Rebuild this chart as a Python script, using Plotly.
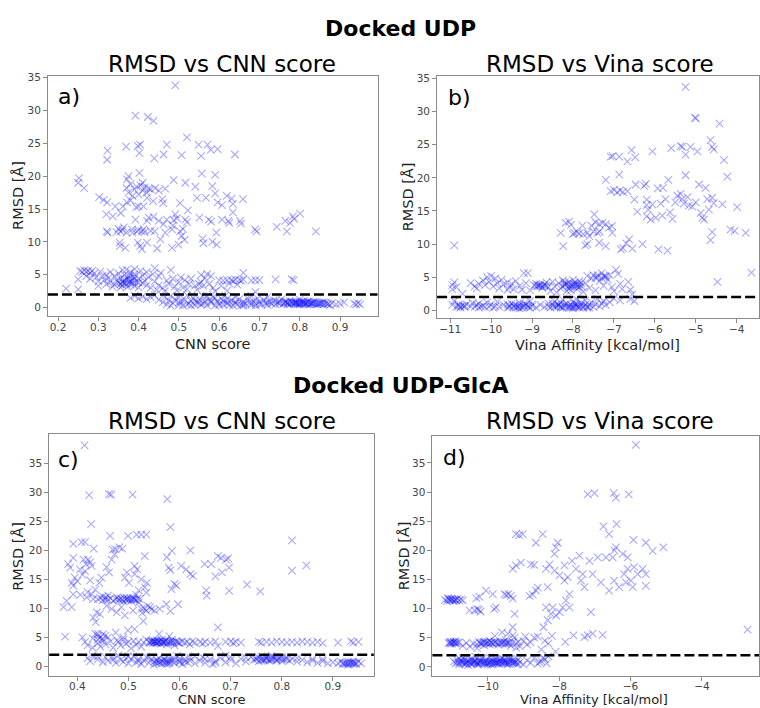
import plotly.graph_objects as go

W, H = 760, 708

# ---------------- data ----------------
# Panel a) Docked UDP, RMSD vs CNN score
a_hi = [(0.491,33.8),(0.392,29.2),(0.423,29.0),(0.437,28.4),(0.52,25.9),(0.369,24.5),(0.398,24.6),(0.404,24.8),
        (0.402,23.5),(0.323,23.9),(0.322,22.5),(0.439,22.7),(0.462,23.3),(0.47,24.8),(0.507,23.2),(0.549,24.8),
        (0.555,23.1),(0.571,24.8),(0.579,24.0),(0.596,24.1),(0.639,23.3),(0.252,19.7),(0.25,19.0),(0.265,18.2),
        (0.302,16.8),(0.313,16.4),(0.322,16.0),(0.32,14.2),(0.336,13.9),(0.342,15.4),(0.321,11.6),(0.323,11.4),
        (0.371,19.5),(0.375,20.0),(0.402,20.5),(0.441,18.2),(0.487,19.4),(0.516,19.0),(0.541,18.4),(0.557,20.4),
        (0.59,20.2),(0.583,18.5),(0.59,17.4),(0.619,17.0),(0.631,16.6),(0.659,16.5),(0.634,15.8),(0.607,15.6),
        (0.596,16.0),(0.545,16.7),(0.567,16.7),(0.503,15.9),(0.522,14.8),(0.491,14.2),(0.47,13.4),(0.487,13.3),
        (0.495,13.6),(0.516,13.4),(0.52,13.0),(0.551,13.7),(0.574,13.4),(0.58,13.1),(0.607,13.4),(0.623,13.2),
        (0.625,12.9),(0.634,14.5),(0.652,13.2),(0.654,12.8),(0.689,11.9),(0.693,11.6),(0.743,12.3),(0.764,13.2),
        (0.776,12.9),(0.783,13.9),(0.786,13.5),(0.801,14.3),(0.768,11.6),(0.84,11.6),(0.436,16.2),(0.459,16.5),
        (0.461,15.9),(0.45,17.8),(0.466,18.1),(0.421,16.7),(0.4,15.4),(0.412,15.4),(0.394,15.3),(0.371,16.0),
        (0.361,15.4),(0.356,14.4),(0.425,13.7),(0.45,13.2),(0.437,13.8),(0.454,10.4),(0.446,9.0),(0.483,9.1),
        (0.499,9.6),(0.507,10.9),(0.514,10.3),(0.503,11.6),(0.483,11.9),(0.466,11.4),(0.462,12.7),(0.559,10.5),
        (0.561,9.8),(0.583,10.0),(0.594,9.6),(0.593,11.4),(0.353,9.9),(0.354,9.4),(0.367,9.1),(0.398,9.9),
        (0.404,9.4),(0.408,8.9),(0.421,9.9),(0.355,11.6),(0.363,12.2),(0.384,11.9),(0.396,11.6),(0.408,11.6),
        (0.412,11.9),(0.392,13.4),(0.421,13.2),(0.44,11.6),(0.37,18.2),(0.375,17.5),(0.38,18.8),(0.385,17.0),
        (0.39,18.0),(0.395,18.4),(0.4,17.2),(0.405,18.6),(0.41,17.8),(0.415,18.3),(0.42,17.5),(0.425,18.1),
        (0.43,18.0),(0.41,19.0),(0.38,16.3),(0.36,11.8),(0.37,11.4),(0.385,11.4),(0.4,11.8),(0.415,11.5),
        (0.43,11.7),(0.345,11.5),(0.35,12.0),(0.485,12.5),(0.51,12.0)]
a_mid = [(0.22,2.9),(0.25,2.8),(0.25,4.3),(0.255,5.6),(0.26,5.4),(0.265,5.7),(0.27,5.5),(0.275,5.6),(0.28,5.3),
         (0.285,5.6),(0.27,4.8),(0.28,4.4),(0.29,5.2),(0.295,4.6),(0.3,4.0),(0.3,3.3),(0.305,5.5),(0.31,4.8),
         (0.315,4.2),(0.32,3.6),(0.32,5.0),(0.325,4.5),(0.33,3.9),(0.335,3.2),(0.34,4.8),(0.34,3.5),(0.345,4.2),
         (0.35,3.8),(0.35,5.2),(0.355,3.1),(0.355,4.5),(0.36,4.0),(0.36,3.4),(0.365,5.0),(0.365,3.7),(0.37,4.3),
         (0.37,5.8),(0.372,3.2),(0.375,4.8),(0.378,3.9),(0.38,5.4),(0.38,3.5),(0.385,4.1),(0.388,4.7),(0.39,3.3),
         (0.39,5.1),(0.395,3.9),(0.4,4.4),(0.4,3.1),(0.405,5.6),(0.41,3.7),(0.41,4.9),(0.415,4.1),(0.42,3.4),
         (0.425,4.6),(0.43,3.0),(0.435,5.1),(0.44,6.0),(0.44,4.0),(0.445,2.7),(0.45,3.4),(0.45,4.8),(0.455,5.3),
         (0.46,3.0),(0.465,2.5),(0.47,4.1),(0.475,3.6),(0.48,5.7),(0.485,4.4),(0.49,3.2),(0.495,2.6),(0.5,3.9),
         (0.505,4.6),(0.51,3.0),(0.515,4.2),(0.52,2.8),(0.525,3.6),(0.53,4.4),(0.54,3.3),(0.545,2.7),(0.55,3.6),
         (0.555,3.9),(0.56,3.3),(0.565,4.5),(0.57,5.1),(0.575,3.6),(0.58,4.8),(0.585,3.0),(0.59,2.5),(0.6,4.2),
         (0.605,3.3),(0.61,4.1),(0.62,4.2),(0.625,3.7),(0.63,4.2),(0.635,4.0),(0.64,4.3),(0.645,3.5),(0.65,4.2),
         (0.655,4.1),(0.66,4.3),(0.66,5.3),(0.68,4.1),(0.69,4.2),(0.7,4.2),(0.74,4.3),(0.78,4.3),(0.785,4.2),
         (0.69,2.4),(0.62,2.6),(0.42,5.4),(0.36,5.7),(0.39,5.9),(0.33,5.4),(0.555,5.0)]
a_low = [(0.38,1.5),(0.39,1.8),(0.4,1.4),(0.41,1.7),(0.42,1.3),(0.43,1.6),(0.44,1.9),(0.45,1.2),(0.46,0.8),
         (0.465,1.6),(0.47,0.5),(0.475,1.1),(0.48,1.8),(0.485,0.7),(0.49,1.3),(0.5,0.4),(0.5,1.6),(0.505,0.9),
         (0.51,0.3),(0.515,1.2),(0.52,1.9),(0.525,0.6),(0.53,1.0),(0.535,1.5),(0.54,0.4),(0.545,0.8),(0.55,1.3),
         (0.555,0.5),(0.56,1.7),(0.565,0.9),(0.57,0.4),(0.575,1.2),(0.58,0.7),(0.585,1.6),(0.59,0.3),(0.595,1.0),
         (0.6,0.6),(0.605,1.4),(0.61,0.5),(0.615,1.8),(0.62,0.8),(0.625,0.4),(0.63,1.1),(0.635,0.3),(0.64,0.7),
         (0.645,0.5),(0.65,1.3),(0.655,0.4),(0.66,0.9),(0.665,0.6),(0.67,1.5),(0.675,0.8),(0.68,0.4),(0.685,1.0),
         (0.69,0.6),(0.695,1.4),(0.7,0.9),(0.705,0.5),(0.71,1.2),(0.715,0.7),(0.72,0.4),(0.725,0.9),(0.73,0.6),
         (0.735,1.1),(0.74,0.5),(0.745,0.8),(0.75,0.6),(0.755,1.3),(0.76,0.7),(0.765,0.9),(0.77,0.5),(0.775,1.0),
         (0.78,0.7),(0.785,0.6),(0.79,0.9),(0.795,0.5),(0.8,0.8),(0.805,0.6),(0.81,1.0),(0.815,0.7),(0.82,0.5),
         (0.825,0.8),(0.83,0.6),(0.835,0.9),(0.84,0.5),(0.845,0.7),(0.85,0.6),(0.855,0.8),(0.86,0.5),(0.865,0.7),
         (0.87,0.6),(0.875,0.4),(0.88,0.7),(0.89,0.5),(0.9,0.6),(0.91,0.8),(0.935,0.6),(0.94,0.5),(0.945,0.7),
         (0.95,0.5),(0.53,0.3),(0.57,1.8),(0.62,1.3),(0.66,0.3),(0.72,1.6),(0.8,1.2),(0.82,0.9),(0.79,0.7),
         (0.81,0.5),(0.83,0.8),(0.77,0.8),(0.75,0.9),(0.64,1.6),(0.68,1.8),(0.59,1.5),(0.48,0.3),(0.55,0.7),
         (0.61,1.0),(0.69,0.3),(0.74,1.0)]
a_dense = [(0.76,0.6),(0.765,0.8),(0.77,0.7),(0.775,0.5),(0.78,0.9),(0.785,0.8),(0.79,0.6),(0.795,0.7),(0.8,0.5),
           (0.805,0.9),(0.81,0.7),(0.815,0.6),(0.82,0.8),(0.825,0.5),(0.83,0.7),(0.835,0.6),(0.84,0.8),(0.845,0.5),
           (0.85,0.7),(0.855,0.6),(0.86,0.8),(0.87,0.5),(0.8,0.6),(0.81,0.8),(0.79,0.8),(0.5,0.8),(0.52,0.5),
           (0.54,1.1),(0.56,0.6),(0.58,1.0),(0.6,0.4),(0.62,0.6),(0.64,0.9),(0.66,0.5),(0.68,0.7),(0.7,0.5),
           (0.72,0.8),(0.36,3.8),(0.37,3.6),(0.375,4.4),(0.38,4.0),(0.385,3.7),(0.39,4.5),(0.4,3.8),(0.38,4.9),
           (0.365,4.2),(0.355,3.6)]

# Panel b) Docked UDP, RMSD vs Vina affinity
b_hi = [(-5.25,33.75),(-5.02,29.1),(-5.0,29.0),(-4.42,28.2),(-4.6,24.7),(-4.64,25.7),(-4.56,24.3),(-5.37,24.8),
        (-5.33,24.7),(-5.13,24.7),(-5.25,23.5),(-4.96,24.0),(-5.6,24.5),(-6.06,24.0),(-6.57,24.2),(-6.48,23.1),
        (-6.67,22.5),(-7.08,23.2),(-7.03,23.3),(-6.87,23.2),(-6.87,20.5),(-7.2,19.7),(-4.31,22.7),(-4.23,20.2),
        (-5.25,20.4),(-4.92,19.0),(-4.76,18.5),(-6.22,19.1),(-6.26,18.8),(-6.47,19.0),(-5.93,18.4),(-5.8,18.5),
        (-5.67,19.7),(-7.08,18.0),(-7.0,18.2),(-6.92,17.8),(-6.85,18.1),(-6.78,17.9),(-6.67,18.0),(-6.5,16.7),
        (-6.2,16.7),(-6.2,15.9),(-6.06,16.0),(-6.16,15.2),(-6.43,14.9),(-6.2,14.2),(-6.1,13.7),(-5.98,14.0),
        (-5.82,14.3),(-5.86,16.1),(-5.74,16.8),(-5.63,14.8),(-5.57,13.8),(-5.5,16.3),(-5.45,17.3),(-5.37,17.6),
        (-5.33,16.8),(-5.2,17.1),(-5.17,15.8),(-5.09,15.7),(-5.0,16.3),(-5.29,16.1),(-4.88,14.7),(-4.84,14.0),
        (-4.8,13.7),(-4.72,16.8),(-4.6,17.0),(-4.56,16.2),(-4.68,15.2),(-4.35,16.0),(-4.6,11.8),(-4.64,10.6),
        (-3.99,15.6),(-4.15,12.2),(-4.05,12.0),(-3.78,11.7),(-3.64,5.7),(-4.47,4.3),(-10.9,9.8),(-8.18,13.2),
        (-8.1,13.4),(-7.97,11.7),(-7.9,11.8),(-7.85,11.6),(-7.65,11.7),(-7.6,11.2),(-7.77,12.8),(-7.45,13.3),
        (-7.36,13.0),(-7.28,13.2),(-7.2,13.0),(-7.12,12.5),(-7.05,12.7),(-7.04,11.7),(-7.4,11.7),(-7.48,14.5),
        (-7.35,11.9),(-8.24,9.7),(-7.65,10.0),(-7.7,9.8),(-7.36,10.2),(-7.2,9.7),(-6.83,9.2),(-6.78,9.4),
        (-6.55,9.3),(-6.3,10.0),(-6.63,10.7),(-6.7,10.1),(-5.91,9.2),(-5.69,9.0),(-8.0,11.5),(-7.75,11.5),
        (-7.55,12.8),(-7.5,11.9),(-8.3,11.7),(-8.05,12.9)]
b_mid = [(-10.95,3.2),(-10.95,3.8),(-10.9,4.2),(-10.85,3.5),(-10.5,4.1),(-10.4,3.6),(-10.35,3.3),(-10.3,4.0),
         (-10.2,4.5),(-10.15,3.8),(-10.1,5.0),(-10.05,4.3),(-10.0,5.2),(-9.95,3.6),(-9.9,4.8),(-9.85,4.1),
         (-9.8,3.3),(-9.75,4.6),(-9.7,3.9),(-9.6,4.2),(-9.55,3.5),(-9.5,4.0),(-9.45,3.2),(-9.4,4.4),(-9.3,3.7),
         (-9.25,3.1),(-9.2,5.6),(-9.1,5.6),(-9.15,4.1),(-9.05,3.0),(-8.95,3.8),(-8.9,4.0),(-8.85,3.6),(-8.8,3.9),
         (-8.75,3.4),(-8.7,3.7),(-8.65,4.2),(-8.6,3.5),(-8.55,2.9),(-8.5,4.3),(-8.45,3.6),(-8.4,2.7),(-8.35,4.1),
         (-8.3,3.3),(-8.25,4.5),(-8.2,3.8),(-8.15,2.9),(-8.1,4.2),(-8.05,3.5),(-8.0,4.6),(-7.95,3.9),(-7.9,3.2),
         (-7.85,4.4),(-7.8,3.7),(-7.75,2.8),(-7.7,4.1),(-7.65,5.2),(-7.6,3.4),(-7.55,4.8),(-7.5,5.3),(-7.45,3.0),
         (-7.4,5.0),(-7.35,4.4),(-7.3,5.6),(-7.25,3.7),(-7.2,5.0),(-7.15,4.6),(-7.1,5.3),(-7.05,3.5),(-7.0,2.9),
         (-6.95,6.1),(-6.9,5.5),(-6.85,4.0),(-6.8,3.2),(-6.65,4.3),(-6.6,3.1),(-6.55,2.4),(-8.1,3.7),(-8.0,4.0),
         (-7.9,3.9),(-8.2,4.0),(-7.85,3.5),(-8.05,3.0),(-9.6,3.1),(-10.7,2.5),(-8.9,3.6),(-8.8,3.7),(-7.45,4.9),
         (-7.25,5.1)]
b_low = [(-10.95,0.8),(-10.9,1.4),(-10.85,0.5),(-10.8,0.6),(-10.75,0.4),(-10.7,0.7),(-10.65,0.5),(-10.6,0.9),
         (-10.5,0.6),(-10.45,1.1),(-10.4,0.5),(-10.35,0.8),(-10.3,0.4),(-10.2,0.7),(-10.1,1.2),(-10.05,0.5),
         (-10.0,0.9),(-9.95,0.4),(-9.9,0.6),(-9.85,1.3),(-9.8,0.5),(-9.7,0.8),(-9.6,0.4),(-9.55,0.7),(-9.5,1.0),
         (-9.45,0.5),(-9.4,0.8),(-9.35,0.6),(-9.3,1.1),(-9.25,0.4),(-9.2,0.7),(-9.15,0.9),(-9.1,0.5),(-9.05,1.4),
         (-9.0,0.6),(-8.9,0.4),(-8.8,0.8),(-8.7,0.5),(-8.6,1.0),(-8.55,0.4),(-8.5,0.7),(-8.45,1.3),(-8.4,0.5),
         (-8.35,0.9),(-8.3,0.4),(-8.25,1.6),(-8.2,0.6),(-8.15,1.0),(-8.1,0.4),(-8.05,0.8),(-8.0,1.3),(-7.95,0.5),
         (-7.9,0.9),(-7.85,0.4),(-7.8,1.1),(-7.75,0.6),(-7.7,1.5),(-7.65,0.4),(-7.6,0.8),(-7.55,1.2),(-7.5,0.5),
         (-7.45,0.9),(-7.4,1.7),(-7.35,0.6),(-7.3,1.0),(-7.25,1.4),(-7.2,0.8),(-7.1,1.2),(-7.0,1.8),(-6.85,1.5),
         (-6.6,1.7),(-6.5,1.4),(-9.3,0.3),(-9.2,1.0),(-8.3,1.1),(-8.0,0.3),(-7.9,1.6),(-8.4,0.9),(-9.6,0.9),
         (-10.3,1.0),(-10.8,0.9),(-9.4,0.4),(-9.0,0.9),(-8.15,0.6),(-7.95,1.0),(-7.8,0.7),(-7.6,0.4),(-8.5,1.0),
         (-8.6,0.6)]
b_dense = [(-8.45,0.5),(-8.35,0.7),(-8.25,0.4),(-8.2,0.9),(-8.1,0.6),(-8.0,0.5),(-7.95,0.8),(-7.85,0.6),
           (-7.75,0.4),(-7.7,0.8),(-7.65,0.6),(-8.3,0.6),(-8.05,0.4),(-7.9,0.5),(-9.55,0.5),(-9.45,0.7),
           (-9.35,0.4),(-9.3,0.7),(-9.2,0.5),(-9.1,0.7),(-9.05,0.4),(-10.75,0.6),(-10.65,0.7),(-10.25,0.6),
           (-10.15,0.5),(-8.25,3.6),(-8.15,4.0),(-8.05,3.8),(-7.95,4.2),(-7.9,3.6),(-7.8,4.1),(-8.1,3.3),
           (-8.0,3.6),(-7.85,3.9),(-8.2,4.3),(-8.85,3.8),(-8.75,3.6),(-8.7,3.9),(-8.65,3.7),(-7.3,4.9),
           (-7.2,5.2),(-7.4,5.3)]

# Panel c) Docked UDP-GlcA, RMSD vs CNN score
c_hi = [(0.414,38.1),(0.423,29.5),(0.462,29.7),(0.466,29.6),(0.508,29.6),(0.576,28.8),(0.427,24.5),(0.464,22.5),
        (0.499,22.5),(0.516,22.7),(0.525,22.7),(0.535,22.7),(0.582,24.0),(0.392,21.1),(0.408,21.4),(0.415,21.4),
        (0.432,20.3),(0.469,20.1),(0.474,20.2),(0.482,20.5),(0.488,20.3),(0.532,19.0),(0.585,19.9),(0.575,18.8),
        (0.621,20.0),(0.382,17.6),(0.386,17.0),(0.392,18.7),(0.412,18.4),(0.421,18.4),(0.417,17.6),(0.425,17.9),
        (0.428,17.3),(0.405,16.7),(0.415,16.4),(0.395,15.3),(0.389,14.4),(0.392,13.9),(0.4,14.7),(0.457,17.1),
        (0.462,16.2),(0.443,14.4),(0.447,15.3),(0.467,18.4),(0.473,19.3),(0.497,16.2),(0.493,15.3),(0.501,14.4),
        (0.512,17.3),(0.517,16.7),(0.512,15.9),(0.525,15.0),(0.536,14.4),(0.535,12.7),(0.532,13.6),(0.579,17.0),
        (0.582,16.6),(0.59,14.2),(0.594,13.9),(0.584,13.3),(0.603,17.3),(0.613,16.7),(0.621,15.9),(0.626,15.6),
        (0.652,13.1),(0.653,12.2),(0.649,17.6),(0.662,17.6),(0.67,15.5),(0.675,19.0),(0.681,18.7),(0.691,18.4),
        (0.695,18.6),(0.683,16.2),(0.697,17.0),(0.697,13.0),(0.675,6.7),(0.373,10.2),(0.389,10.2),(0.379,11.3),
        (0.392,12.4),(0.406,12.3),(0.418,11.9),(0.428,12.4),(0.431,11.6),(0.438,9.3),(0.444,9.0),(0.436,7.6),
        (0.431,8.4),(0.457,10.4),(0.467,9.9),(0.477,9.3),(0.486,10.2),(0.493,8.8),(0.509,9.6),(0.529,7.8),
        (0.525,9.9),(0.535,9.6),(0.542,10.2),(0.551,9.6),(0.561,9.9),(0.574,10.7),(0.582,9.5),(0.597,10.7),
        (0.499,6.2),(0.512,6.4),(0.376,5.1),(0.732,14.1),(0.758,12.9),(0.82,21.7),(0.82,16.5),(0.848,17.4),
        (0.52,11.0),(0.53,10.0),(0.527,9.2),(0.538,10.4),(0.515,12.3),(0.52,13.1),(0.45,12.0),(0.455,11.5),
        (0.46,12.2),(0.42,12.8),(0.41,15.8),(0.425,14.8),(0.435,13.2),(0.545,9.8),
        (0.44,11.6),(0.445,11.8),(0.45,11.4),(0.455,11.9),(0.46,11.5),(0.465,11.7),(0.47,11.3),(0.475,11.6),
        (0.478,11.9),(0.482,11.4),(0.485,11.7),(0.488,11.5),(0.49,11.2),(0.492,11.8),(0.495,11.5),(0.498,11.6),
        (0.5,11.4),(0.503,11.7),(0.506,11.5),(0.509,11.8),(0.512,11.6),(0.515,11.4),(0.518,11.7),(0.522,11.6),
        (0.48,11.6),(0.497,11.8),(0.505,11.3),(0.51,11.5)]
c_mid = [(0.41,5.0),(0.415,4.2),(0.42,3.6),(0.43,4.8),(0.435,5.6),(0.44,5.2),(0.44,4.0),(0.445,3.4),(0.45,5.5),
         (0.45,4.4),(0.455,3.8),(0.46,5.0),(0.465,4.3),(0.47,3.2),(0.475,5.8),(0.48,4.2),(0.485,3.6),(0.49,4.6),
         (0.495,3.9),(0.5,4.2),(0.505,3.1),(0.51,4.4),(0.515,3.7),(0.52,4.2),(0.525,3.4),(0.53,4.1),(0.535,4.6),
         (0.54,4.2),(0.545,4.4),(0.548,4.0),(0.55,4.3),(0.553,4.1),(0.556,4.5),(0.56,4.2),(0.563,3.9),(0.566,4.3),
         (0.57,4.1),(0.573,4.4),(0.576,4.2),(0.58,5.2),(0.583,4.0),(0.586,4.3),(0.59,3.6),(0.595,4.2),(0.6,4.0),
         (0.605,4.3),(0.61,4.1),(0.615,4.2),(0.62,3.8),(0.625,4.3),(0.63,4.1),(0.64,4.2),(0.645,3.9),(0.65,4.2),
         (0.66,4.1),(0.67,4.3),(0.675,3.5),(0.69,4.2),(0.7,4.3),(0.705,4.0),(0.71,4.2),(0.72,4.1),(0.755,4.2),
         (0.76,4.1),(0.77,4.2),(0.78,4.1),(0.79,4.3),(0.8,4.2),(0.81,4.1),(0.82,4.2),(0.83,4.1),(0.84,4.3),
         (0.85,4.2),(0.86,4.1),(0.87,4.2),(0.88,4.0),(0.91,4.1),(0.935,4.3),(0.94,4.1),(0.95,4.2),(0.555,4.0),
         (0.565,4.6),(0.575,3.8),(0.585,4.6),(0.545,4.2),(0.552,4.3),(0.558,4.2),(0.568,4.2),(0.478,4.5),
         (0.455,5.3),(0.44,5.6),(0.43,3.2),(0.56,5.6),(0.49,5.0)]
c_low = [(0.42,1.4),(0.425,0.9),(0.43,1.8),(0.44,1.2),(0.45,0.7),(0.455,1.6),(0.46,1.0),(0.47,1.5),(0.475,0.6),
         (0.48,1.9),(0.485,1.1),(0.49,0.8),(0.495,1.4),(0.5,0.5),(0.505,1.2),(0.51,1.7),(0.515,0.7),(0.52,1.3),
         (0.525,0.4),(0.53,1.0),(0.535,1.6),(0.54,0.6),(0.545,1.2),(0.55,0.3),(0.555,0.9),(0.56,1.4),(0.565,0.5),
         (0.57,1.1),(0.575,0.4),(0.58,0.8),(0.585,1.3),(0.59,0.6),(0.595,1.8),(0.6,0.9),(0.605,0.4),(0.61,1.2),
         (0.615,0.7),(0.62,1.5),(0.63,0.5),(0.64,1.0),(0.645,1.6),(0.65,0.6),(0.66,1.2),(0.665,0.4),(0.67,0.9),
         (0.68,1.4),(0.69,0.7),(0.7,1.1),(0.71,0.5),(0.72,1.3),(0.73,0.8),(0.74,1.6),(0.745,1.1),(0.75,1.4),
         (0.755,0.9),(0.76,1.7),(0.765,1.2),(0.77,1.5),(0.775,1.0),(0.78,1.3),(0.785,1.6),(0.79,1.1),(0.795,1.4),
         (0.8,0.9),(0.805,1.2),(0.81,1.5),(0.815,1.0),(0.82,1.3),(0.83,0.8),(0.84,1.1),(0.85,0.7),(0.86,1.0),
         (0.87,0.6),(0.88,0.9),(0.89,0.5),(0.9,0.7),(0.91,0.5),(0.915,0.8),(0.92,0.4),(0.925,0.6),(0.93,0.5),
         (0.935,0.7),(0.94,0.4),(0.945,0.6),(0.95,0.8),(0.955,0.5),(0.56,0.8),(0.57,0.6),(0.58,1.1),(0.555,0.5),
         (0.575,1.0),(0.52,0.9),(0.54,1.5),(0.6,1.3),(0.62,1.0),(0.65,1.3),(0.67,0.6),(0.7,1.6),(0.76,1.0),
         (0.78,1.8),(0.8,1.6),(0.77,1.2),(0.79,1.5),(0.81,1.2),(0.83,1.4),(0.86,1.3),(0.88,1.2),(0.94,0.8),
         (0.93,0.3),(0.5,1.7),(0.47,1.1),(0.44,1.7),(0.63,1.7),(0.69,1.9),(0.73,1.5)]
c_dense = [(0.542,4.1),(0.547,4.3),(0.551,4.2),(0.557,4.1),(0.562,4.3),(0.567,4.1),(0.572,4.3),(0.578,4.1),
           (0.582,4.2),(0.588,4.1),(0.593,4.3),(0.598,4.1),(0.55,0.8),(0.555,1.1),(0.56,0.6),(0.565,0.9),
           (0.57,1.3),(0.575,0.7),(0.58,0.5),(0.585,0.9),(0.59,1.1),(0.6,0.7),(0.61,0.8),(0.75,1.2),(0.755,1.5),
           (0.76,1.3),(0.765,1.0),(0.77,1.4),(0.775,1.2),(0.78,1.1),(0.785,1.3),(0.79,1.0),(0.8,1.3),(0.92,0.6),
           (0.925,0.4),(0.93,0.7),(0.935,0.5),(0.94,0.6),(0.945,0.4),(0.445,5.0),(0.45,4.7),(0.44,4.6)]

# Panel d) Docked UDP-GlcA, RMSD vs Vina affinity
d_hi = [(-5.85,38.1),(-7.2,29.6),(-7.01,29.8),(-6.47,29.8),(-6.41,29.0),(-6.05,29.6),(-6.39,24.5),(-6.76,24.1),
        (-6.6,22.8),(-5.92,21.8),(-5.57,21.3),(-5.38,19.9),(-5.08,20.5),(-6.41,20.5),(-6.45,20.0),(-6.22,19.4),
        (-6.08,18.8),(-6.69,18.8),(-6.5,18.8),(-6.92,18.8),(-7.15,18.2),(-7.43,19.1),(-7.64,18.2),(-7.85,17.4),
        (-7.34,15.9),(-7.53,16.8),(-7.76,15.4),(-7.99,15.7),(-7.85,14.8),(-8.13,16.5),(-8.27,17.6),(-8.09,20.5),
        (-8.04,21.3),(-8.13,19.4),(-8.65,21.3),(-8.46,22.8),(-9.02,22.8),(-9.21,22.8),(-9.12,22.6),(-9.3,16.8),
        (-9.21,17.4),(-9.07,17.9),(-8.79,17.6),(-8.7,17.5),(-8.37,16.8),(-8.32,13.7),(-8.65,13.1),(-8.6,13.6),
        (-8.83,12.2),(-8.74,12.4),(-7.06,15.9),(-7.39,14.8),(-7.29,13.7),(-6.83,14.5),(-6.6,13.1),(-6.46,14.8),
        (-6.32,13.7),(-6.13,14.5),(-5.99,14.8),(-5.94,13.7),(-6.08,16.8),(-5.9,17.1),(-5.66,16.8),(-5.8,15.9),
        (-5.57,13.9),(-5.57,15.9),(-6.18,15.9),(-7.81,11.4),(-7.71,10.2),(-7.9,10.2),(-7.99,9.4),(-8.18,10.2),
        (-8.37,10.2),(-8.09,8.8),(-8.32,8.0),(-8.23,9.1),(-8.44,6.8),(-7.11,9.4),(-7.71,12.5),(-7.29,5.1),
        (-7.2,5.4),(-7.06,5.7),(-6.78,5.5),(-7.6,5.4),(-7.83,4.3),(-2.72,6.4),(-9.86,12.5),(-9.77,10.2),
        (-9.82,9.9),(-10.05,13.1),(-10.23,12.0),(-10.32,11.8),(-10.51,9.7),(-10.37,9.7),(-10.3,9.9),(-10.2,9.5),
        (-10.25,9.8),(-9.53,12.5),(-9.48,12.3),(-9.42,12.5),(-9.35,12.2),(-9.3,11.7),(-9.25,9.1),(-9.3,6.8),
        (-9.44,5.7),(-10.7,11.4),(-11.2,11.5),(-11.15,11.3),(-11.1,11.7),(-11.05,11.4),(-11.0,11.6),
        (-10.95,11.3),(-10.9,11.5),(-10.85,11.7),(-10.8,11.4),(-10.75,11.6),(-11.12,11.8),(-10.98,11.5)]
d_mid = [(-11.1,4.1),(-11.05,4.3),(-11.0,4.0),(-10.95,4.2),(-10.9,4.4),(-10.85,4.1),(-10.8,4.2),(-10.7,3.6),
         (-10.6,4.1),(-10.5,3.5),(-10.4,4.0),(-10.3,3.8),(-10.25,4.3),(-10.2,4.0),(-10.15,4.2),(-10.1,3.7),
         (-10.05,4.1),(-10.0,4.3),(-9.95,3.9),(-9.9,4.2),(-9.85,4.0),(-9.8,4.3),(-9.75,4.1),(-9.7,3.8),(-9.65,4.2),
         (-9.6,4.0),(-9.55,4.3),(-9.5,3.9),(-9.45,4.1),(-9.4,4.3),(-9.35,3.6),(-9.3,4.2),(-9.25,5.0),(-9.2,4.0),
         (-9.15,4.3),(-9.1,3.5),(-9.0,4.4),(-8.9,3.8),(-8.8,4.2),(-8.7,5.0),(-8.6,5.2),(-8.5,3.0),(-8.4,4.5),
         (-8.3,4.0),(-8.2,5.3),(-8.1,2.6),(-9.6,5.9),(-9.8,5.3),(-10.3,3.2),(-9.95,4.5),(-10.1,4.3),(-9.5,4.6),
         (-9.3,5.4),(-9.2,3.3),(-8.95,5.2),(-11.05,4.0),(-10.9,4.1),(-10.95,4.3)]
d_low = [(-10.9,0.6),(-10.85,1.2),(-10.8,0.4),(-10.75,0.9),(-10.7,1.5),(-10.65,0.5),(-10.6,1.0),(-10.55,0.3),
         (-10.5,0.8),(-10.45,1.3),(-10.4,0.6),(-10.35,1.7),(-10.3,0.4),(-10.25,1.0),(-10.2,0.7),(-10.15,1.4),
         (-10.1,0.5),(-10.05,1.1),(-10.0,0.8),(-9.95,1.6),(-9.9,0.4),(-9.85,1.0),(-9.8,0.6),(-9.75,1.3),(-9.7,0.5),
         (-9.65,0.9),(-9.6,1.5),(-9.55,0.7),(-9.5,1.1),(-9.45,0.4),(-9.4,0.9),(-9.35,1.4),(-9.3,0.6),(-9.25,1.0),
         (-9.2,0.5),(-9.15,1.2),(-9.1,0.8),(-9.0,0.4),(-8.9,1.1),(-8.8,0.7),(-8.7,1.5),(-8.6,0.5),(-8.5,1.0),
         (-8.4,1.3),(-8.35,0.6),(-8.3,1.8),(-10.8,1.5),(-10.6,0.7),(-10.4,1.0),(-10.2,1.1),(-10.0,0.4),(-9.8,1.2),
         (-9.6,0.6),(-9.4,1.3),(-9.2,0.9),(-10.7,0.6),(-10.5,1.2),(-10.3,0.8),(-10.1,0.9),(-9.9,0.8),(-9.7,1.0),
         (-9.5,0.8),(-9.3,1.1),(-10.85,0.8),(-10.65,1.3),(-10.45,0.5),(-10.25,0.5),(-10.05,0.6),(-9.85,0.5),
         (-9.65,1.2),(-9.45,0.7),(-9.25,0.7),(-10.95,0.9),(-10.35,1.1),(-9.95,1.0),(-9.75,0.8),(-9.55,1.0),
         (-9.35,0.9),(-9.15,0.5),(-8.55,0.8),(-8.45,1.6)]
d_dense = [(-10.8,0.7),(-10.7,0.9),(-10.6,0.5),(-10.5,0.6),(-10.4,0.8),(-10.3,0.6),(-10.2,0.9),(-10.1,0.7),
           (-10.0,0.6),(-9.9,1.0),(-9.8,0.8),(-9.7,0.7),(-9.6,0.9),(-9.5,0.6),(-9.4,0.6),(-9.3,0.8),(-10.75,1.1),
           (-10.55,1.0),(-10.35,0.9),(-10.15,0.8),(-9.95,0.7),(-9.75,0.6),(-9.55,1.3),(-10.2,4.1),(-10.1,4.2),
           (-10.0,4.0),(-9.9,4.1),(-9.8,4.2),(-9.7,4.1),(-9.6,4.2),(-9.5,4.1),(-9.4,4.0),(-11.05,4.2),(-11.0,4.3),
           (-10.9,4.0),(-11.08,11.5),(-11.03,11.7),(-10.93,11.6),(-10.88,11.4)]

rmsd_cutoff = 2.0
cnn_ticks = [0.2, 0.3, 0.4, 0.5, 0.6, 0.7, 0.8, 0.9]
cnn_ticks_c = [0.4, 0.5, 0.6, 0.7, 0.8, 0.9]
vina_ticks_b = [-11, -10, -9, -8, -7, -6, -5, -4]
vina_ticks_d = [-10, -8, -6, -4]
rmsd_ticks_ab = [0, 5, 10, 15, 20, 25, 30, 35]

# ---------------- figure ----------------
FONT = "DejaVu Sans"
MARK = dict(symbol="x-thin", size=7.5, line=dict(width=1.1, color="rgba(0,0,255,0.34)"))

fig = go.Figure()
panels = [("x", "y", a_hi + a_mid + a_low + a_dense), ("x2", "y2", b_hi + b_mid + b_low + b_dense),
          ("x3", "y3", c_hi + c_mid + c_low + c_dense), ("x4", "y4", d_hi + d_mid + d_low + d_dense)]
for xa, ya, pts in panels:
    fig.add_trace(go.Scatter(x=[p[0] for p in pts], y=[p[1] for p in pts], mode="markers",
                             marker=MARK, xaxis=xa, yaxis=ya, showlegend=False, hoverinfo="skip"))

def px(v): return v / W
def py(v): return 1 - v / H

axis_common = dict(showline=True, mirror=True, linecolor="#8a8a8a", linewidth=1, ticks="outside",
                   ticklen=4, tickcolor="#8a8a8a", tickfont=dict(family=FONT, size=10.5, color="#444"),
                   showgrid=False, zeroline=False, fixedrange=True)
xaxis_top = dict(axis_common, ticklabelstandoff=-3)
xaxis_bot = dict(axis_common, ticklabelstandoff=-4)

fig.update_layout(
    width=W, height=H, margin=dict(l=0, r=0, t=0, b=0),
    paper_bgcolor="white", plot_bgcolor="white", font=dict(family=FONT),
    xaxis=dict(xaxis_top, domain=[px(48), px(378)], range=[0.175, 0.993], tickvals=cnn_ticks, anchor="y"),
    yaxis=dict(axis_common, domain=[py(314), py(72)], range=[-1.3, 35.3], tickvals=rmsd_ticks_ab, anchor="x"),
    xaxis2=dict(xaxis_top, domain=[px(437.7), 1.0], range=[-11.32, -3.455], tickvals=vina_ticks_b, anchor="y2"),
    yaxis2=dict(axis_common, domain=[py(316), py(72.7)], range=[-1.2, 35.35], tickvals=rmsd_ticks_ab, anchor="x2"),
    xaxis3=dict(xaxis_bot, domain=[px(49.3), px(374.3)], range=[0.345, 0.98], tickvals=cnn_ticks_c, anchor="y3"),
    yaxis3=dict(axis_common, domain=[py(676), py(432.7)], range=[-1.7, 40.0], tickvals=rmsd_ticks_ab, anchor="x3"),
    xaxis4=dict(xaxis_bot, domain=[px(433), 1.0], range=[-11.55, -2.40], tickvals=vina_ticks_d, anchor="y4"),
    yaxis4=dict(axis_common, domain=[py(676), py(434)], range=[-1.6, 39.7], tickvals=rmsd_ticks_ab, anchor="x4"),
)

# RMSD cutoff dashed lines
for xa, ya in [("x", "y"), ("x2", "y2"), ("x3", "y3"), ("x4", "y4")]:
    fig.add_shape(type="line", xref=f"{xa} domain", yref=ya, x0=0, x1=1, y0=rmsd_cutoff, y1=rmsd_cutoff,
                  line=dict(color="black", width=2.6, dash="10px,4px"), layer="above")

def text(s, x, y, size, bold=False, angle=0, xanchor="center", color="black"):
    fig.add_annotation(text=f"<b>{s}</b>" if bold else s, x=px(x), y=py(y), xref="paper", yref="paper",
                       showarrow=False, xanchor=xanchor, yanchor="middle", textangle=angle,
                       font=dict(family=FONT, size=size, color=color))

text("Docked UDP", 401, 25, 22, bold=True)
text("Docked UDP-GlcA", 401, 384, 22, bold=True)
text("RMSD vs CNN score", 222, 60, 23)
text("RMSD vs Vina score", 601, 60, 23)
text("RMSD vs CNN score", 222, 419, 23)
text("RMSD vs Vina score", 601, 419, 23)
text("a)", 56, 93, 22, xanchor="left")
text("b)", 447, 94, 22, xanchor="left")
text("c)", 56, 458, 22, xanchor="left")
text("d)", 442, 456, 22, xanchor="left")
text("CNN score", 213, 342, 14.5, color="#222")
text("Vina Affinity [kcal/mol]", 598, 343, 14.5, color="#222")
text("CNN score", 212, 699.5, 13, color="#222")
text("Vina Affinity [kcal/mol]", 595, 699.5, 13, color="#222")
text("RMSD [Å]", 18, 192, 14.5, angle=-90, color="#222")
text("RMSD [Å]", 408, 194, 14.5, angle=-90, color="#222")
text("RMSD [Å]", 18, 555, 14.5, angle=-90, color="#222")
text("RMSD [Å]", 404, 555, 14.5, angle=-90, color="#222")

fig.write_html("out.html", config={"displayModeBar": False},
               post_script="document.body.style.margin='0px';")
